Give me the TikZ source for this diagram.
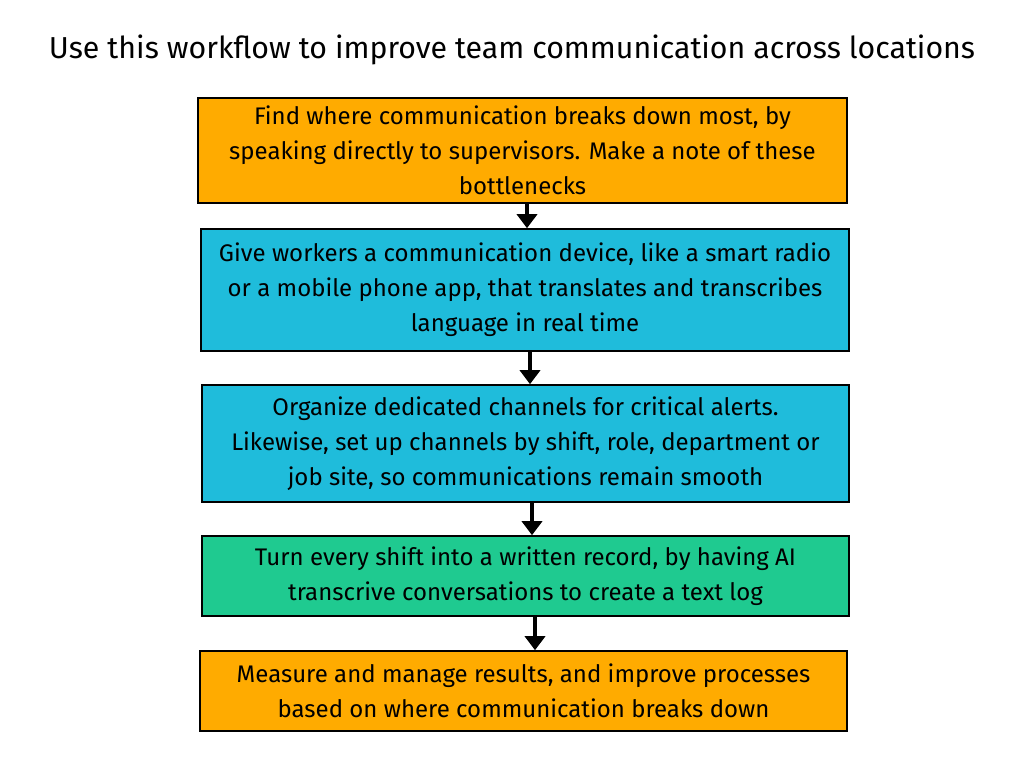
\documentclass[tikz,border=0pt]{standalone}
\usepackage{fontspec}
\setmainfont{Fira Sans}
\usetikzlibrary{arrows.meta}
\definecolor{boxorange}{HTML}{FFAB00}
\definecolor{boxcyan}{HTML}{1FBCDB}
\definecolor{boxgreen}{HTML}{1FCA90}
\tikzset{
  x=1pt,y=-1pt,
  stepbox/.style={draw=black,line width=1.6pt,align=center,inner sep=0pt,
    minimum width=648pt,font=\fontsize{24}{35}\selectfont,text=black},
  flow/.style={line width=4.5pt,-{Triangle[length=14pt,width=20pt]}},
}
\begin{document}
\begin{tikzpicture}
\useasboundingbox (0,0) rectangle (1024,768);
\node[font=\fontsize{30.3}{34}\selectfont] (title) at (512,50) {Use this workflow to improve team communication across locations};
\node[stepbox,fill=boxorange,minimum width=649pt,minimum height=105pt] (b1) at (522.5,150.5) {Find where communication breaks down most, by\\speaking directly to supervisors. Make a note of these\\bottlenecks};
\node[stepbox,fill=boxcyan,minimum width=648pt,minimum height=122pt] (b2) at (525,290) {\raisebox{-3pt}{\parbox{640pt}{\centering Give workers a communication device, like a smart radio\\or a mobile phone app, that translates and transcribes\\language in real time}}};
\node[stepbox,fill=boxcyan,minimum width=647pt,minimum height=117pt] (b3) at (525.5,443.5) {Organize dedicated channels for critical alerts.\\Likewise, set up channels by shift, role, department or\\job site, so communications remain smooth};
\node[stepbox,fill=boxgreen,minimum width=647pt,minimum height=80pt] (b4) at (525.5,576) {\raisebox{-4pt}{\parbox{640pt}{\centering Turn every shift into a written record, by having AI\\transcrive conversations to create a text log}}};
\node[stepbox,fill=boxorange,minimum width=647pt,minimum height=80pt] (b5) at (523.5,691) {Measure and manage results, and improve processes\\based on where communication breaks down};
\draw[flow] ([xshift=4.5pt]b1.south) -- ([xshift=2pt]b2.north);
\draw[flow] ([xshift=5pt]b2.south) -- ([xshift=4.5pt]b3.north);
\draw[flow] ([xshift=6.5pt]b3.south) -- ([xshift=6.5pt]b4.north);
\draw[flow] ([xshift=9.5pt]b4.south) -- ([xshift=11.5pt]b5.north);
\end{tikzpicture}
\end{document}
